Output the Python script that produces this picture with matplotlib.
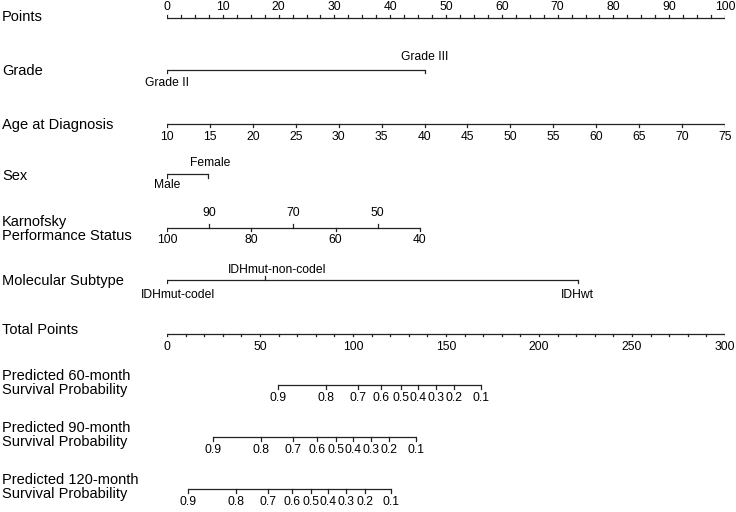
import numpy as np
import matplotlib
matplotlib.use("Agg")
import matplotlib.pyplot as plt
from matplotlib.transforms import blended_transform_factory

plt.rcParams['font.family'] = ['Liberation Sans', 'DejaVu Sans']

# ---- data ----
points_ticks = np.arange(0, 101, 10)
points_minor = np.arange(0, 100.1, 2.5)

grade_labels = ['Grade II', 'Grade III']
grade_points = [0, 46.2]

age_values = np.arange(10, 76, 5)
age_range = [10, 75]          # age -> points 0..100

sex_labels = ['Male', 'Female']
sex_points = [0, 7.4]

kps_values = [100, 90, 80, 70, 60, 50, 40]
kps_range = [100, 40]
kps_points_range = [0, 45.3]

mol_labels = ['IDHmut-codel', 'IDHmut-non-codel', 'IDHwt']
mol_points = [0, 17.6, 73.6]

total_ticks = np.arange(0, 301, 50)
total_minor = np.arange(0, 301, 10)
total_max = 300

surv_probs = ['0.9', '0.8', '0.7', '0.6', '0.5', '0.4', '0.3', '0.2', '0.1']
surv60_tp = [59.7, 85.6, 102.6, 115.3, 125.7, 135.1, 144.5, 154.5, 168.8]
surv90_tp = [24.8, 50.7, 67.7, 80.4, 90.8, 100.2, 109.6, 119.6, 133.9]
surv120_tp = [11.4, 37.3, 54.3, 67.0, 77.4, 86.8, 96.2, 106.2, 120.5]

# ---- figure ----
W, H = 736, 512
fig = plt.figure(figsize=(W / 100, H / 100), dpi=100)
ax = fig.add_axes([167 / W, 0, 558 / W, 1])
ax.set_xlim(0, 100)
ax.set_ylim(H, 0)
ax.axis('off')

lc = '#222222'
fs = 8.7        # axis labels (cex.axis)
fs_var = 10.5   # variable names (cex.var)
tl = 3.5


def hline(y, x0, x1):
    ax.plot([x0, x1], [y, y], color=lc, lw=0.9, solid_capstyle='butt')


def ticks(y, xs, up=False, length=tl):
    for x in xs:
        ax.plot([x, x], [y, y - length if up else y + length], color=lc, lw=0.9)


def labels(y, xs, texts):
    for x, t in zip(xs, texts):
        ax.text(x, y, t, ha='center', va='center', fontsize=fs)


def cat_label(x, y, text, dx=0):
    # dx: small horizontal nudge in pixels
    ax.annotate(text, (x, y), xytext=(dx, 0), textcoords='offset pixels',
                ha='center', va='center', fontsize=fs)


row_tr = blended_transform_factory(fig.transFigure, ax.transData)


def row_label(y, text):
    ax.text(2 / W, y, text, transform=row_tr, ha='left', va='center',
            fontsize=fs_var, linespacing=1.0)


# Points
y = 17.5
hline(y, 0, 100)
ticks(y, points_minor, up=True, length=2.5)
labels(7, points_ticks, [str(v) for v in points_ticks])
row_label(17, 'Points')

# Grade
y = 69.5
hline(y, grade_points[0], grade_points[1])
ticks(y, grade_points)
cat_label(grade_points[0], 83.5, grade_labels[0])
cat_label(grade_points[1], 57, grade_labels[1])
row_label(71, 'Grade')

# Age
y = 123.5
age_pts = np.interp(age_values, age_range, [0, 100])
hline(y, 0, 100)
ticks(y, age_pts)
labels(137, age_pts, [str(v) for v in age_values])
row_label(125, 'Age at Diagnosis')

# Sex
y = 174
hline(y, sex_points[0], sex_points[1])
ticks(y, sex_points)
cat_label(sex_points[0], 185.5, sex_labels[0])
cat_label(sex_points[1], 163.5, sex_labels[1], dx=2)
row_label(176, 'Sex')

# Karnofsky
y = 227.5
kps_pts = np.interp(kps_values, kps_range[::-1], kps_points_range[::-1])
hline(y, kps_pts[0], kps_pts[-1])
for i, (v, p) in enumerate(zip(kps_values, kps_pts)):
    if i % 2 == 0:
        ticks(y, [p])
        ax.text(p, 240, str(v), ha='center', va='center', fontsize=fs)
    else:
        ticks(y, [p], up=True)
        ax.text(p, 213.5, str(v), ha='center', va='center', fontsize=fs)
row_label(229, 'Karnofsky\nPerformance Status')

# Molecular subtype
y = 279.5
hline(y, mol_points[0], mol_points[-1])
ticks(y, [mol_points[0], mol_points[2]])
ticks(y, [mol_points[1]], up=True)
cat_label(mol_points[0], 295, mol_labels[0], dx=11)
cat_label(mol_points[1], 270, mol_labels[1], dx=12)
cat_label(mol_points[2], 295, mol_labels[2])
row_label(281, 'Molecular Subtype')

# Total points
scale = 100 / total_max
y = 333.5
hline(y, 0, 100)
ticks(y, total_minor * scale, length=2.5)
labels(347, total_ticks * scale, [str(v) for v in total_ticks])
row_label(330, 'Total Points')

# Survival axes
for y, tp, name in [(385, surv60_tp, 'Predicted 60-month\nSurvival Probability'),
                    (437, surv90_tp, 'Predicted 90-month\nSurvival Probability'),
                    (489, surv120_tp, 'Predicted 120-month\nSurvival Probability')]:
    xs = np.array(tp) * scale
    hline(y, xs[0], xs[-1])
    ticks(y, xs)
    labels(y + 13, xs, surv_probs)
    row_label(y - 2, name)

fig.savefig('out.png', dpi=100)
